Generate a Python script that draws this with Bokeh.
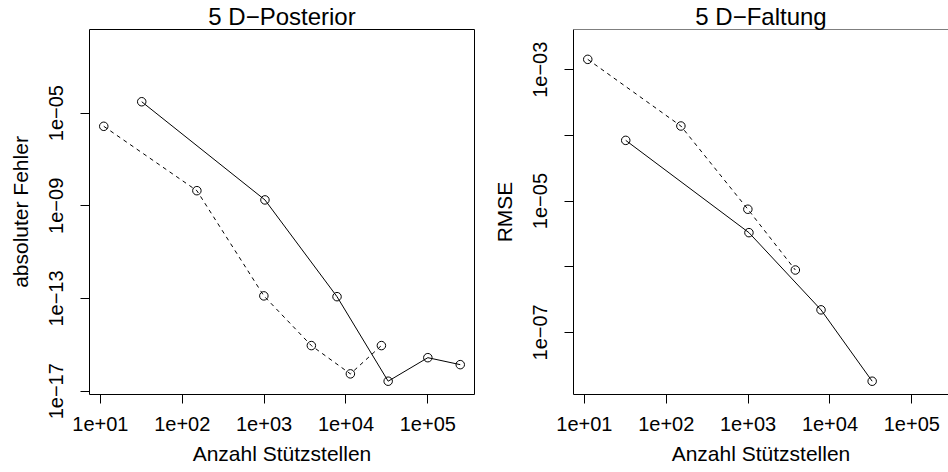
import math
from bokeh.plotting import figure
from bokeh.layouts import row
from bokeh.models import FixedTicker, Span
from bokeh.embed import file_html
from bokeh.resources import INLINE

# ---------------- data ----------------
post_grid_n = [32, 1024, 7776, 32768, 100000, 248832]
post_grid_err = [3.1e-5, 1.8e-9, 1.2e-13, 2.7e-17, 2.8e-16, 1.4e-16]
post_sparse_n = [11, 151, 993, 3777, 11323, 27093]
post_sparse_err = [2.7e-6, 4.5e-9, 1.3e-13, 9.3e-16, 5.6e-17, 9.3e-16]

falt_grid_n = [32, 1024, 7776, 32768]
falt_grid_rmse = [8.4e-5, 3.3e-6, 2.2e-7, 1.8e-8]
falt_sparse_n = [11, 151, 993, 3777]
falt_sparse_rmse = [1.44e-3, 1.39e-4, 7.5e-6, 8.9e-7]

x_ticks = [1e1, 1e2, 1e3, 1e4, 1e5]
x_tick_labels = ["1e+01", "1e+02", "1e+03", "1e+04", "1e+05"]
post_y_ticks = [1e-5, 1e-9, 1e-13, 1e-17]
post_y_tick_labels = ["1e\u221205", "1e\u221209", "1e\u221213", "1e\u221217"]
falt_y_ticks = [1e-3, 1e-5, 1e-7]
falt_y_tick_labels = ["1e\u221203", "1e\u221205", "1e\u221207"]
falt_y_minor_ticks = [1e-4, 1e-6]

titles = ["5 D\u2212Posterior", "5 D\u2212Faltung"]
x_label = "Anzahl St\u00fctzstellen"
y_labels = ["absoluter Fehler", "RMSE"]

# ---------------- layout ----------------
FONT = "Liberation Sans"
H = 472
W1, W2 = 480, 468
L1, R1 = 89, 6
L2, R2 = 93, 0
TOP, BOTTOM = 29, 78

all_n = post_grid_n + post_sparse_n
lx0, lx1 = math.log10(min(all_n)), math.log10(max(all_n))
pad = 0.04 * (lx1 - lx0)
x_lo, x_hi = lx0 - pad, lx1 + pad
fw1 = W1 - L1 - R1
fw2 = W2 - L2 - R2
x_hi2 = x_lo + fw2 * (x_hi - x_lo) / fw1

post_ylog = (-17.142, -1.391)
falt_ylog = (-7.947, -2.387)


def style(p, title, ylabel, yticks, ylabels, minor=None):
    p.title.text = title
    p.title.text_font = FONT
    p.title.text_font_size = "24px"
    p.title.text_font_style = "normal"
    p.title.align = "center"
    p.title.text_color = "black"
    p.title.standoff = -1
    p.xgrid.grid_line_color = None
    p.ygrid.grid_line_color = None
    for ax in (p.xaxis[0], p.yaxis[0]):
        ax.major_tick_out = 9
        ax.major_tick_in = 0
        ax.major_tick_line_color = "black"
        ax.major_tick_line_width = 1
        ax.minor_tick_line_color = None
        ax.major_label_text_font = FONT
        ax.major_label_text_font_size = "20px"
        ax.major_label_text_color = "black"
        ax.axis_label_text_font = FONT
        ax.axis_label_text_font_size = "21px"
        ax.axis_label_text_font_style = "normal"
        ax.axis_label_text_color = "black"
    xa = p.xaxis[0]
    xa.ticker = FixedTicker(ticks=x_ticks)
    xa.major_label_overrides = dict(zip(x_ticks, x_tick_labels))
    xa.axis_label = x_label
    xa.major_label_standoff = 13
    xa.axis_label_standoff = 8
    ya = p.yaxis[0]
    if minor:
        ya.ticker = FixedTicker(ticks=yticks, minor_ticks=minor)
        ya.minor_tick_line_color = "black"
        ya.minor_tick_out = 9
        ya.minor_tick_in = 0
    else:
        ya.ticker = FixedTicker(ticks=yticks)
    ya.major_label_overrides = dict(zip(yticks, ylabels))
    ya.major_label_orientation = "vertical"
    ya.axis_label = ylabel
    ya.major_label_standoff = 17
    ya.axis_label_standoff = 15


def draw(p, xs, ys, dash):
    p.line(xs, ys, line_color="black", line_width=1, line_dash=dash)
    p.scatter(xs, ys, marker="circle", size=8.5, fill_color=None,
              line_color="black", line_width=1)


p1 = figure(width=W1, height=H, x_axis_type="log", y_axis_type="log",
            x_range=(10 ** x_lo, 10 ** x_hi),
            y_range=(10 ** post_ylog[0], 10 ** post_ylog[1]),
            output_backend="svg", toolbar_location=None,
            min_border_left=L1, min_border_right=R1,
            min_border_top=TOP, min_border_bottom=BOTTOM)
p1.outline_line_color = "black"
p1.outline_line_width = 1
style(p1, titles[0], y_labels[0], post_y_ticks, post_y_tick_labels)
p1.xaxis.axis_line_color = None
p1.yaxis.axis_line_color = None
draw(p1, post_grid_n, post_grid_err, "solid")
draw(p1, post_sparse_n, post_sparse_err, "4 4")

p2 = figure(width=W2, height=H, x_axis_type="log", y_axis_type="log",
            x_range=(10 ** x_lo, 10 ** x_hi2),
            y_range=(10 ** falt_ylog[0], 10 ** falt_ylog[1]),
            output_backend="svg", toolbar_location=None,
            min_border_left=L2, min_border_right=R2,
            min_border_top=TOP, min_border_bottom=BOTTOM)
p2.outline_line_color = None
style(p2, titles[1], y_labels[1], falt_y_ticks, falt_y_tick_labels,
      minor=falt_y_minor_ticks)
p2.xaxis.axis_line_color = "black"
p2.yaxis.axis_line_color = "black"
p2.add_layout(Span(location=10 ** falt_ylog[1], dimension="width",
                   line_color="black", line_width=1))
draw(p2, falt_grid_n, falt_grid_rmse, "solid")
draw(p2, falt_sparse_n, falt_sparse_rmse, "4 4")

layout = row(p1, p2)
open("out.html", "w").write(file_html(layout, INLINE))
